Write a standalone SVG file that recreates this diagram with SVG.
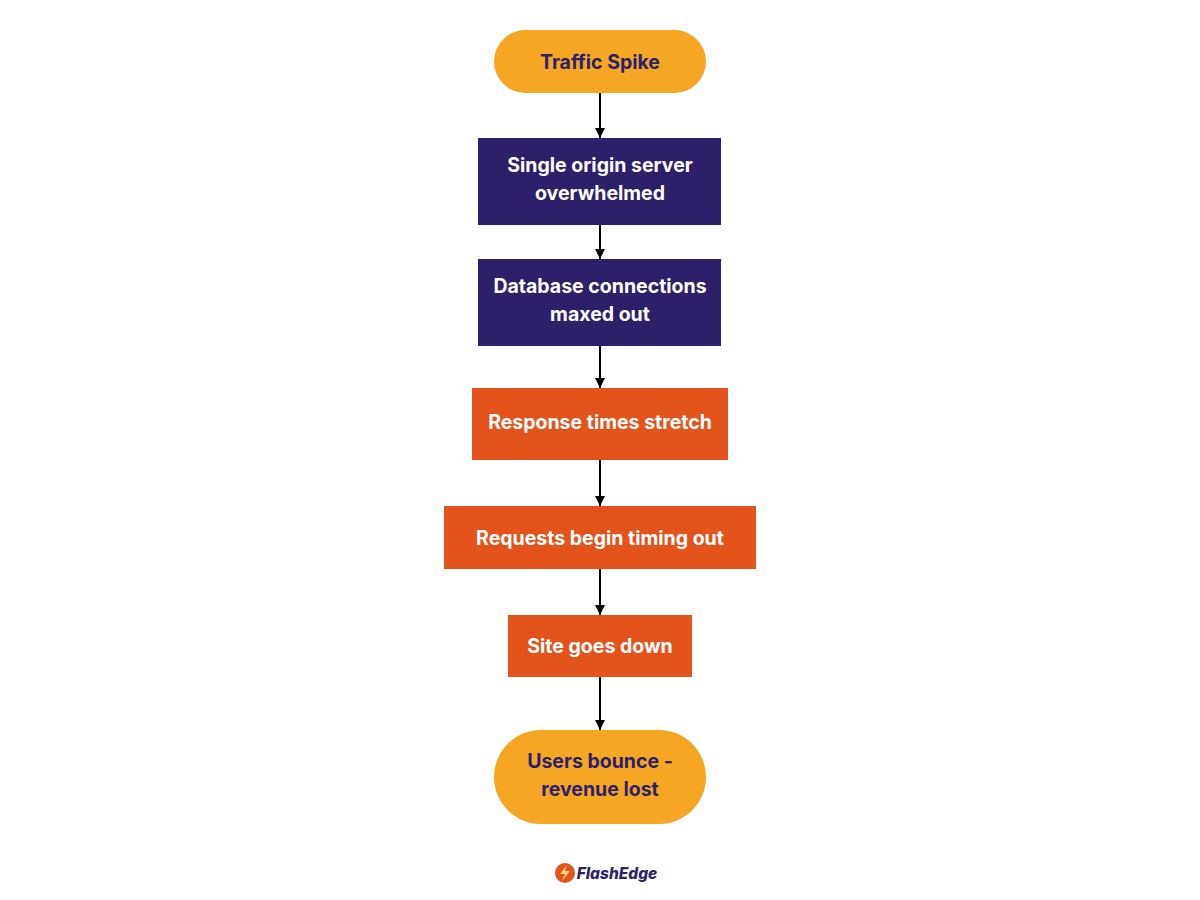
<svg xmlns="http://www.w3.org/2000/svg" width="1200" height="900" viewBox="0 0 1200 900">
<style>
text{font-family:Inter,"Liberation Sans",sans-serif;font-weight:700;font-size:19.5px;text-anchor:middle}
.y{fill:#F5A623}.p{fill:#2E1F6B}.r{fill:#E4531B}
.ty{fill:#2E1F6B}.tw{fill:#FFFFFF}
.c{stroke:#000;stroke-width:2;fill:none;marker-end:url(#a)}
</style>
<defs><marker id="a" viewBox="0 0 10 10" refX="10" refY="5" markerWidth="5" markerHeight="5" orient="auto"><path d="M0,0L10,5L0,10z" fill="#000"/></marker></defs>
<rect width="1200" height="900" fill="#fff"/>
<g id="connectors">
<line class="c" x1="600" y1="93" x2="600" y2="138"/>
<line class="c" x1="600" y1="225" x2="600" y2="259"/>
<line class="c" x1="600" y1="346" x2="600" y2="388"/>
<line class="c" x1="600" y1="460" x2="600" y2="506"/>
<line class="c" x1="600" y1="569" x2="600" y2="615"/>
<line class="c" x1="600" y1="677" x2="600" y2="730"/>
</g>
<g id="n1"><rect class="y" x="494" y="30" width="212" height="63" rx="31.5"/><text class="ty" x="600" y="69">Traffic Spike</text></g>
<g id="n2"><rect class="p" x="478" y="138" width="243" height="87"/><text class="tw" x="600" y="172">Single origin server</text><text class="tw" x="600" y="200">overwhelmed</text></g>
<g id="n3"><rect class="p" x="478" y="259" width="243" height="87"/><text class="tw" x="600" y="293">Database connections</text><text class="tw" x="600" y="321">maxed out</text></g>
<g id="n4"><rect class="r" x="472" y="388" width="256" height="72"/><text class="tw" x="600" y="429">Response times stretch</text></g>
<g id="n5"><rect class="r" x="444" y="506" width="312" height="63"/><text class="tw" x="600" y="545">Requests begin timing out</text></g>
<g id="n6"><rect class="r" x="508" y="615" width="184" height="62"/><text class="tw" x="600" y="653">Site goes down</text></g>
<g id="n7"><rect class="y" x="494" y="730" width="212" height="94" rx="47"/><text class="ty" x="600" y="768">Users bounce -</text><text class="ty" x="600" y="796">revenue lost</text></g>
<g id="logo">
<circle cx="565" cy="873" r="10" fill="#E4531B"/>
<path d="M567,865 L560,874 L565,874 L562,881 L570,871 L565,871 Z" fill="#FFD27A"/>
<text x="617" y="879" style="font-size:15.5px;font-style:italic;font-weight:800;fill:#2E1F6B">FlashEdge</text>
</g>
</svg>
